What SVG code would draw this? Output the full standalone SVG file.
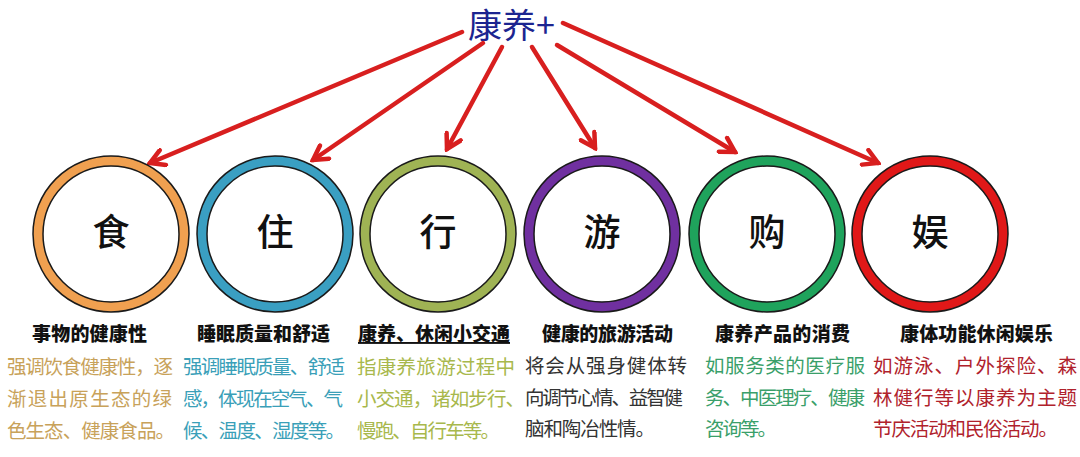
<svg xmlns="http://www.w3.org/2000/svg" width="1080" height="457" viewBox="0 0 1080 457">
<style>
  .ring { fill: none; stroke-width: 10; }
  .edge { fill: none; stroke: #1a1a1a; stroke-width: 1.5; }
  .glyph { font-family: "Noto Sans CJK SC", "Noto Sans CJK JP", sans-serif; font-size: 37px; font-weight: 500; fill: #111; text-anchor: middle; }
  .title { font-family: "Noto Sans CJK SC", sans-serif; font-size: 34px; fill: #1c2590; }
  .sub { font-family: "Noto Sans CJK SC", sans-serif; font-size: 19px; font-weight: 900; fill: #111; }
  .body { font-family: "Noto Sans CJK SC", sans-serif; font-size: 19.5px; }
  .conn { fill: none; stroke: #d81f1f; stroke-width: 4.5; stroke-linecap: round; }
</style>
<defs>
  <marker id="arr" viewBox="0 0 20 20" refX="17" refY="10" markerWidth="20" markerHeight="20" markerUnits="userSpaceOnUse" orient="auto">
    <path d="M3,2 L17,10 L3,18" fill="none" stroke="#d81f1f" stroke-width="4.5" stroke-linecap="round" stroke-linejoin="miter"/>
  </marker>
</defs>
<rect width="1080" height="457" fill="#ffffff"/>

<g id="title">
  <text class="title" x="468" y="38">康养+</text>
</g>

<g id="connectors">
  <line class="conn" x1="462" y1="32" x2="150" y2="163" marker-end="url(#arr)"/>
  <line class="conn" x1="483" y1="43" x2="313" y2="160" marker-end="url(#arr)"/>
  <line class="conn" x1="502" y1="47" x2="447" y2="149" marker-end="url(#arr)"/>
  <line class="conn" x1="532" y1="47" x2="595" y2="148" marker-end="url(#arr)"/>
  <line class="conn" x1="557" y1="45" x2="735" y2="152" marker-end="url(#arr)"/>
  <line class="conn" x1="563" y1="23" x2="878" y2="163" marker-end="url(#arr)"/>
</g>

<g id="node-shi">
  <circle class="ring" cx="111" cy="234" r="73" stroke="#f0a050"/>
  <circle class="edge" cx="111" cy="234" r="78"/>
  <circle class="edge" cx="111" cy="234" r="68"/>
  <text class="glyph" x="111" y="246">食</text>
  <text class="sub" x="32" y="341" textLength="115" lengthAdjust="spacing">事物的健康性</text>
  <g class="body" fill="#c8a25a">
    <text x="7" y="374" textLength="166" lengthAdjust="spacing">强调饮食健康性，逐</text>
    <text x="7" y="406" textLength="165" lengthAdjust="spacing">渐退出原生态的绿</text>
    <text x="7" y="438" textLength="168" lengthAdjust="spacing">色生态、健康食品。</text>
  </g>
</g>

<g id="node-zhu">
  <circle class="ring" cx="275" cy="234" r="73" stroke="#3a9fc2"/>
  <circle class="edge" cx="275" cy="234" r="78"/>
  <circle class="edge" cx="275" cy="234" r="68"/>
  <text class="glyph" x="275" y="246">住</text>
  <text class="sub" x="197" y="341" textLength="133" lengthAdjust="spacing">睡眠质量和舒适</text>
  <g class="body" fill="#3a9fb8">
    <text x="183" y="374" textLength="162" lengthAdjust="spacing">强调睡眠质量、舒适</text>
    <text x="183" y="406" textLength="160" lengthAdjust="spacing">感，体现在空气、气</text>
    <text x="183" y="438" textLength="162" lengthAdjust="spacing">候、温度、湿度等。</text>
  </g>
</g>

<g id="node-xing">
  <circle class="ring" cx="438" cy="234" r="73" stroke="#9fb354"/>
  <circle class="edge" cx="438" cy="234" r="78"/>
  <circle class="edge" cx="438" cy="234" r="68"/>
  <text class="glyph" x="438" y="246">行</text>
  <text class="sub" x="358" y="341" textLength="152" lengthAdjust="spacing" text-decoration="underline">康养、休闲小交通</text>
  <g class="body" fill="#a8b84c">
    <text x="357" y="374" textLength="158" lengthAdjust="spacing">指康养旅游过程中</text>
    <text x="357" y="406" textLength="168" lengthAdjust="spacing">小交通，诸如步行、</text>
    <text x="357" y="438" textLength="143" lengthAdjust="spacing">慢跑、自行车等。</text>
  </g>
</g>

<g id="node-you">
  <circle class="ring" cx="602" cy="234" r="73" stroke="#7030a0"/>
  <circle class="edge" cx="602" cy="234" r="78"/>
  <circle class="edge" cx="602" cy="234" r="68"/>
  <text class="glyph" x="602" y="246">游</text>
  <text class="sub" x="542" y="341" textLength="131" lengthAdjust="spacing">健康的旅游活动</text>
  <g class="body" fill="#333333">
    <text x="525" y="373" textLength="162" lengthAdjust="spacing">将会从强身健体转</text>
    <text x="525" y="405" textLength="158" lengthAdjust="spacing">向调节心情、益智健</text>
    <text x="525" y="436" textLength="130" lengthAdjust="spacing">脑和陶冶性情。</text>
  </g>
</g>

<g id="node-gou">
  <circle class="ring" cx="767" cy="234" r="73" stroke="#1fa35c"/>
  <circle class="edge" cx="767" cy="234" r="78"/>
  <circle class="edge" cx="767" cy="234" r="68"/>
  <text class="glyph" x="767" y="246">购</text>
  <text class="sub" x="715" y="341" textLength="135" lengthAdjust="spacing">康养产品的消费</text>
  <g class="body" fill="#3a9f6a">
    <text x="705" y="373" textLength="160" lengthAdjust="spacing">如服务类的医疗服</text>
    <text x="705" y="405" textLength="160" lengthAdjust="spacing">务、中医理疗、健康</text>
    <text x="705" y="436" textLength="72" lengthAdjust="spacing">咨询等。</text>
  </g>
</g>

<g id="node-yu">
  <circle class="ring" cx="930" cy="234" r="73" stroke="#e01818"/>
  <circle class="edge" cx="930" cy="234" r="78"/>
  <circle class="edge" cx="930" cy="234" r="68"/>
  <text class="glyph" x="930" y="246">娱</text>
  <text class="sub" x="900" y="341" textLength="153" lengthAdjust="spacing">康体功能休闲娱乐</text>
  <g class="body" fill="#b0222c">
    <text x="873" y="373" textLength="204" lengthAdjust="spacing">如游泳、户外探险、森</text>
    <text x="873" y="405" textLength="204" lengthAdjust="spacing">林健行等以康养为主题</text>
    <text x="873" y="436" textLength="185" lengthAdjust="spacing">节庆活动和民俗活动。</text>
  </g>
</g>
</svg>
